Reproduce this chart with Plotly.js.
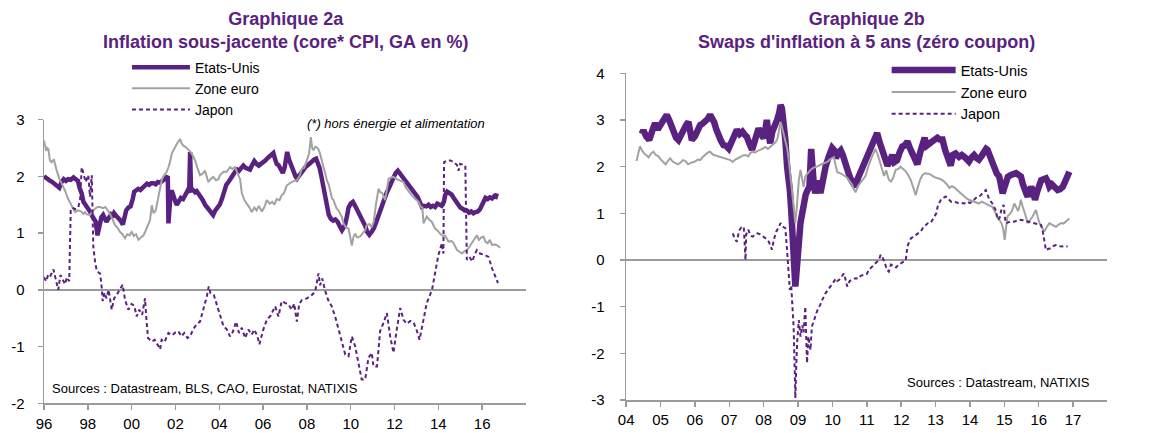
<!DOCTYPE html>
<html>
<head>
<meta charset="utf-8">
<script src="https://cdn.plot.ly/plotly-3.0.1.min.js"></script>
<style>
html,body{margin:0;padding:0;background:#ffffff;}
#chart{width:1150px;height:433px;}
</style>
</head>
<body>
<div id="chart"></div>
<script>
// ---------- Graphique 2a : inflation sous-jacente (core CPI, GA en %) ----------
const seriesNames = ['Etats-Unis', 'Zone euro', 'Japon'];

const coreUS = [
[1996.0,2.00],[1996.12,1.96],[1996.25,1.93],[1996.38,1.90],[1996.5,1.86],[1996.6,1.82],[1996.7,1.80],[1996.8,1.90],[1996.9,1.95],
[1997.0,1.92],[1997.1,1.95],[1997.22,1.94],[1997.35,1.98],[1997.45,1.95],[1997.55,1.92],[1997.62,1.80],[1997.72,1.70],[1997.8,1.55],
[1997.9,1.50],[1998.0,1.45],[1998.1,1.38],[1998.2,1.30],[1998.3,1.22],[1998.36,1.20],[1998.44,0.96],[1998.5,1.10],[1998.55,1.22],
[1998.62,1.28],[1998.7,1.32],[1998.78,1.25],[1998.85,1.20],[1998.95,1.26],[1999.05,1.32],[1999.12,1.28],[1999.2,1.35],[1999.3,1.30],
[1999.4,1.26],[1999.5,1.22],[1999.6,1.15],[1999.68,1.30],[1999.75,1.40],[1999.85,1.45],[1999.95,1.47],[2000.05,1.60],[2000.12,1.73],
[2000.2,1.75],[2000.3,1.78],[2000.4,1.76],[2000.5,1.80],[2000.6,1.84],[2000.7,1.87],[2000.8,1.85],[2000.9,1.88],[2001.0,1.88],
[2001.1,1.86],[2001.2,1.90],[2001.3,1.89],[2001.4,1.92],[2001.5,1.95],[2001.6,1.98],[2001.65,2.00],[2001.68,1.17],[2001.73,1.55],
[2001.78,1.70],[2001.83,1.75],[2001.92,1.62],[2002.0,1.55],[2002.06,1.50],[2002.15,1.55],[2002.25,1.62],[2002.35,1.60],[2002.45,1.67],
[2002.55,1.72],[2002.63,1.80],[2002.67,2.43],[2002.71,1.75],[2002.8,1.76],[2002.9,1.72],[2002.97,1.74],[2003.05,1.70],[2003.15,1.65],
[2003.25,1.58],[2003.35,1.50],[2003.45,1.45],[2003.55,1.38],[2003.65,1.33],[2003.72,1.32],[2003.82,1.40],[2003.92,1.46],[2004.02,1.50],
[2004.12,1.60],[2004.22,1.72],[2004.32,1.85],[2004.42,1.90],[2004.52,1.98],[2004.62,2.02],[2004.72,2.08],[2004.82,2.12],[2004.9,2.10],
[2005.0,2.16],[2005.1,2.19],[2005.2,2.15],[2005.3,2.13],[2005.4,2.12],[2005.5,2.20],[2005.6,2.27],[2005.7,2.22],[2005.8,2.19],
[2005.9,2.22],[2006.0,2.24],[2006.1,2.28],[2006.2,2.32],[2006.3,2.36],[2006.4,2.38],[2006.47,2.41],[2006.55,2.30],[2006.62,2.22],
[2006.7,2.20],[2006.8,2.12],[2006.9,2.06],[2006.98,2.15],[2007.05,2.30],[2007.1,2.43],[2007.18,2.30],[2007.28,2.18],[2007.38,2.10],
[2007.48,2.00],[2007.55,1.96],[2007.65,2.02],[2007.75,2.08],[2007.85,2.12],[2007.95,2.17],[2008.05,2.20],[2008.15,2.24],[2008.25,2.28],
[2008.35,2.30],[2008.42,2.31],[2008.5,2.24],[2008.58,2.15],[2008.66,2.00],[2008.75,1.80],[2008.83,1.60],[2008.92,1.40],[2009.0,1.32],
[2009.1,1.25],[2009.2,1.22],[2009.3,1.24],[2009.4,1.20],[2009.5,1.12],[2009.6,1.05],[2009.68,1.10],[2009.75,1.16],[2009.83,1.30],
[2009.9,1.45],[2010.0,1.52],[2010.1,1.55],[2010.2,1.48],[2010.3,1.40],[2010.38,1.35],[2010.48,1.30],[2010.58,1.20],[2010.67,1.12],
[2010.75,1.02],[2010.85,0.97],[2010.95,1.02],[2011.05,1.08],[2011.15,1.18],[2011.25,1.30],[2011.35,1.40],[2011.45,1.52],[2011.55,1.64],
[2011.65,1.72],[2011.75,1.80],[2011.85,1.90],[2011.95,2.00],[2012.05,2.06],[2012.15,2.10],[2012.25,2.05],[2012.35,1.98],[2012.45,1.92],
[2012.55,1.88],[2012.65,1.84],[2012.75,1.80],[2012.85,1.74],[2012.95,1.70],[2013.05,1.64],[2013.15,1.55],[2013.25,1.46],[2013.35,1.48],
[2013.45,1.47],[2013.55,1.50],[2013.65,1.46],[2013.75,1.48],[2013.85,1.46],[2013.95,1.52],[2014.05,1.50],[2014.15,1.48],[2014.25,1.55],
[2014.32,1.68],[2014.4,1.73],[2014.5,1.70],[2014.6,1.68],[2014.7,1.62],[2014.8,1.55],[2014.9,1.50],[2015.0,1.45],[2015.1,1.43],
[2015.2,1.40],[2015.3,1.40],[2015.4,1.36],[2015.5,1.38],[2015.6,1.35],[2015.7,1.37],[2015.8,1.38],[2015.9,1.42],[2016.0,1.50],
[2016.08,1.56],[2016.15,1.62],[2016.25,1.60],[2016.35,1.63],[2016.45,1.61],[2016.55,1.65],[2016.62,1.64],[2016.67,1.70]
];

const coreEZ = [
[1996.0,2.63],[1996.05,2.55],[1996.1,2.45],[1996.15,2.50],[1996.2,2.48],[1996.27,2.28],[1996.35,2.25],[1996.45,2.30],[1996.52,2.18],
[1996.58,2.10],[1996.7,1.96],[1996.85,1.85],[1996.96,1.75],[1997.08,1.62],[1997.19,1.52],[1997.3,1.45],[1997.42,1.37],[1997.55,1.40],
[1997.7,1.38],[1997.8,1.34],[1997.87,1.37],[1997.95,1.33],[1998.1,1.32],[1998.2,1.38],[1998.33,1.43],[1998.45,1.46],[1998.56,1.46],
[1998.7,1.44],[1998.8,1.46],[1998.9,1.40],[1999.0,1.35],[1999.12,1.25],[1999.24,1.14],[1999.35,1.10],[1999.47,1.02],[1999.58,0.98],
[1999.7,0.91],[1999.8,0.98],[1999.9,0.96],[2000.0,1.02],[2000.1,0.95],[2000.2,0.98],[2000.31,0.88],[2000.42,0.92],[2000.54,0.96],
[2000.65,1.05],[2000.75,1.15],[2000.84,1.23],[2000.92,1.49],[2001.0,1.35],[2001.1,1.40],[2001.22,1.64],[2001.3,1.80],[2001.37,1.93],
[2001.45,2.00],[2001.53,2.05],[2001.6,2.08],[2001.68,2.16],[2001.75,2.25],[2001.83,2.40],[2001.95,2.50],[2002.06,2.57],[2002.15,2.62],
[2002.21,2.66],[2002.28,2.58],[2002.36,2.54],[2002.45,2.52],[2002.55,2.49],[2002.65,2.45],[2002.74,2.40],[2002.82,2.35],[2002.9,2.28],
[2003.0,2.15],[2003.12,2.02],[2003.25,2.05],[2003.35,2.10],[2003.5,1.90],[2003.6,1.95],[2003.73,1.99],[2003.85,1.93],[2003.96,1.95],
[2004.03,2.02],[2004.19,2.08],[2004.34,2.08],[2004.49,2.16],[2004.6,2.13],[2004.72,2.16],[2004.85,2.02],[2004.95,1.95],[2005.03,1.70],
[2005.15,1.58],[2005.25,1.52],[2005.38,1.45],[2005.48,1.37],[2005.6,1.45],[2005.7,1.40],[2005.8,1.48],[2005.94,1.38],[2006.05,1.45],
[2006.17,1.58],[2006.3,1.52],[2006.42,1.55],[2006.52,1.50],[2006.62,1.60],[2006.75,1.58],[2006.85,1.67],[2006.95,1.70],[2007.08,1.84],
[2007.2,1.88],[2007.31,1.90],[2007.42,1.92],[2007.54,1.93],[2007.66,2.00],[2007.77,2.13],[2007.88,2.15],[2008.0,2.28],[2008.1,2.40],
[2008.18,2.69],[2008.24,2.50],[2008.3,2.46],[2008.38,2.52],[2008.45,2.51],[2008.52,2.48],[2008.6,2.40],[2008.68,2.30],[2008.76,2.16],
[2008.84,2.05],[2008.91,1.93],[2009.0,1.85],[2009.06,1.73],[2009.14,1.62],[2009.21,1.58],[2009.3,1.48],[2009.36,1.43],[2009.44,1.40],
[2009.52,1.35],[2009.6,1.28],[2009.67,1.17],[2009.78,1.10],[2009.9,1.08],[2009.98,0.95],[2010.05,0.78],[2010.12,0.92],[2010.2,0.99],
[2010.3,0.92],[2010.43,0.94],[2010.55,1.00],[2010.66,1.05],[2010.73,1.14],[2010.85,1.16],[2010.95,1.10],[2011.05,1.20],[2011.15,1.50],
[2011.27,1.78],[2011.35,1.72],[2011.45,1.70],[2011.57,1.58],[2011.65,1.80],[2011.73,1.96],[2011.85,1.98],[2011.95,1.99],[2012.1,1.95],
[2012.25,1.92],[2012.41,1.90],[2012.52,1.80],[2012.64,1.73],[2012.8,1.66],[2012.95,1.60],[2013.1,1.55],[2013.2,1.46],[2013.27,1.45],
[2013.32,1.17],[2013.4,1.25],[2013.47,1.29],[2013.6,1.23],[2013.7,1.20],[2013.85,1.08],[2013.95,1.05],[2014.08,0.99],[2014.2,0.95],
[2014.3,0.96],[2014.46,0.85],[2014.6,0.86],[2014.7,0.82],[2014.85,0.70],[2014.95,0.68],[2015.08,0.64],[2015.18,0.68],[2015.3,0.70],
[2015.4,0.75],[2015.53,0.82],[2015.65,0.88],[2015.76,0.96],[2015.85,0.88],[2015.95,0.92],[2016.06,0.94],[2016.15,0.85],[2016.25,0.82],
[2016.35,0.88],[2016.45,0.79],[2016.6,0.80],[2016.7,0.78],[2016.82,0.74]
];

const coreJP = [
[1996.0,0.22],[1996.1,0.15],[1996.2,0.28],[1996.3,0.25],[1996.43,0.36],[1996.55,0.15],[1996.65,0.00],[1996.75,0.26],[1996.85,0.18],
[1996.96,0.10],[1997.05,0.22],[1997.15,0.15],[1997.22,1.40],[1997.3,1.45],[1997.42,1.42],[1997.57,1.46],[1997.65,1.60],[1997.72,2.16],
[1997.8,2.05],[1997.9,1.90],[1998.02,2.02],[1998.1,1.64],[1998.18,2.02],[1998.25,0.76],[1998.33,0.50],[1998.4,0.35],[1998.5,0.30],
[1998.56,0.29],[1998.62,0.10],[1998.68,-0.20],[1998.76,-0.05],[1998.85,-0.15],[1998.95,0.00],[1999.09,-0.35],[1999.2,-0.15],[1999.3,-0.10],
[1999.45,0.00],[1999.59,0.09],[1999.7,-0.18],[1999.85,-0.35],[2000.0,-0.25],[2000.12,-0.28],[2000.23,-0.47],[2000.35,-0.35],[2000.48,-0.44],
[2000.61,-0.15],[2000.68,-0.55],[2000.75,-0.85],[2000.92,-0.91],[2001.05,-0.88],[2001.22,-0.99],[2001.3,-1.05],[2001.37,-0.88],[2001.5,-0.92],
[2001.68,-0.76],[2001.85,-0.80],[2002.0,-0.75],[2002.13,-0.73],[2002.28,-0.82],[2002.4,-0.76],[2002.55,-0.85],[2002.67,-0.82],[2002.8,-0.70],
[2002.97,-0.61],[2003.12,-0.56],[2003.27,-0.35],[2003.43,-0.12],[2003.52,0.06],[2003.6,-0.06],[2003.75,-0.09],[2003.96,-0.35],[2004.1,-0.55],
[2004.19,-0.64],[2004.35,-0.70],[2004.49,-0.82],[2004.62,-0.74],[2004.77,-0.56],[2004.9,-0.76],[2005.03,-0.67],[2005.18,-0.85],[2005.33,-0.70],
[2005.48,-0.79],[2005.6,-0.70],[2005.74,-0.82],[2005.83,-0.96],[2006.01,-0.70],[2006.17,-0.53],[2006.35,-0.45],[2006.55,-0.29],[2006.7,-0.47],
[2006.85,-0.20],[2007.0,-0.23],[2007.16,-0.26],[2007.31,-0.35],[2007.42,-0.24],[2007.54,-0.56],[2007.65,-0.25],[2007.77,-0.18],[2008.0,-0.15],
[2008.23,-0.09],[2008.38,-0.03],[2008.53,0.29],[2008.6,0.08],[2008.7,0.20],[2008.82,0.00],[2008.97,-0.18],[2009.13,-0.29],[2009.29,-0.47],
[2009.44,-0.70],[2009.59,-0.94],[2009.75,-1.14],[2009.9,-1.17],[2010.05,-0.82],[2010.2,-0.99],[2010.35,-1.29],[2010.5,-1.58],[2010.66,-1.58],
[2010.81,-1.20],[2010.96,-1.11],[2011.04,-1.35],[2011.2,-1.35],[2011.27,-1.05],[2011.34,-0.73],[2011.5,-0.58],[2011.65,-0.41],[2011.8,-0.82],
[2011.95,-1.11],[2012.1,-0.70],[2012.26,-0.32],[2012.41,-0.53],[2012.56,-0.60],[2012.72,-0.55],[2012.87,-0.58],[2013.0,-0.70],[2013.14,-0.88],
[2013.32,-0.53],[2013.47,-0.23],[2013.71,0.00],[2013.85,0.29],[2014.0,0.61],[2014.16,0.82],[2014.23,0.64],[2014.26,2.25],[2014.4,2.28],
[2014.54,2.28],[2014.7,2.25],[2014.85,2.20],[2014.92,2.10],[2015.0,2.22],[2015.23,2.19],[2015.3,0.53],[2015.42,0.58],[2015.55,0.50],
[2015.65,0.62],[2015.76,0.70],[2015.9,0.64],[2016.14,0.61],[2016.29,0.58],[2016.45,0.38],[2016.6,0.23],[2016.72,0.12]
];

// ---------- Graphique 2b : swaps d'inflation à 5 ans (zéro coupon) ----------
const swapUS = [
[2004.45,2.70],[2004.5,2.78],[2004.58,2.65],[2004.67,2.57],[2004.75,2.75],[2004.84,2.93],[2004.92,2.80],[2005.0,2.90],[2005.1,3.05],
[2005.18,3.11],[2005.25,3.00],[2005.32,2.85],[2005.38,2.71],[2005.45,2.62],[2005.52,2.57],[2005.6,2.70],[2005.67,2.82],[2005.75,2.90],
[2005.81,2.96],[2005.86,2.80],[2005.91,2.57],[2006.0,2.65],[2006.08,2.80],[2006.15,2.89],[2006.22,2.92],[2006.3,2.96],[2006.37,3.02],
[2006.44,3.11],[2006.5,3.05],[2006.56,2.95],[2006.62,2.80],[2006.69,2.64],[2006.76,2.55],[2006.83,2.46],[2006.9,2.45],[2006.98,2.39],
[2007.05,2.50],[2007.12,2.61],[2007.18,2.72],[2007.22,2.79],[2007.3,2.70],[2007.38,2.75],[2007.45,2.68],[2007.51,2.64],[2007.58,2.50],
[2007.66,2.36],[2007.72,2.50],[2007.78,2.65],[2007.85,2.82],[2007.92,2.70],[2008.0,2.61],[2008.05,2.80],[2008.09,3.00],[2008.14,2.70],
[2008.19,2.50],[2008.25,2.75],[2008.32,2.85],[2008.39,3.00],[2008.45,3.15],[2008.49,3.32],[2008.53,3.25],[2008.56,3.11],[2008.6,2.85],
[2008.63,2.57],[2008.68,2.00],[2008.72,1.80],[2008.76,1.50],[2008.8,1.07],[2008.84,0.60],[2008.87,0.36],[2008.9,-0.20],[2008.92,-0.57],
[2008.95,-0.30],[2008.99,0.14],[2009.03,0.50],[2009.07,0.80],[2009.12,1.00],[2009.17,1.25],[2009.22,1.40],[2009.28,1.50],[2009.33,1.57],
[2009.38,2.38],[2009.41,1.80],[2009.46,1.60],[2009.5,1.43],[2009.56,1.60],[2009.6,1.70],[2009.65,1.43],[2009.72,1.75],[2009.8,2.00],
[2009.89,2.21],[2009.99,2.40],[2010.05,2.35],[2010.1,2.18],[2010.17,2.30],[2010.24,2.35],[2010.3,2.25],[2010.38,2.00],[2010.45,1.90],
[2010.52,1.75],[2010.6,1.65],[2010.67,1.57],[2010.74,1.75],[2010.82,1.90],[2010.9,2.00],[2010.96,2.10],[2011.04,2.30],[2011.11,2.42],
[2011.18,2.55],[2011.25,2.68],[2011.3,2.72],[2011.36,2.55],[2011.42,2.42],[2011.48,2.30],[2011.53,2.15],[2011.6,2.02],[2011.66,2.10],
[2011.74,2.25],[2011.8,2.10],[2011.88,2.14],[2011.95,2.30],[2012.03,2.43],[2012.1,2.45],[2012.18,2.54],[2012.25,2.40],[2012.32,2.29],
[2012.42,2.10],[2012.47,2.05],[2012.55,2.30],[2012.62,2.45],[2012.68,2.62],[2012.74,2.45],[2012.82,2.50],[2012.9,2.52],[2013.0,2.58],
[2013.05,2.62],[2013.12,2.58],[2013.2,2.58],[2013.28,2.35],[2013.36,2.15],[2013.44,2.02],[2013.5,2.25],[2013.58,2.28],[2013.68,2.21],
[2013.76,2.25],[2013.85,2.20],[2013.97,2.11],[2014.05,2.20],[2014.12,2.25],[2014.2,2.18],[2014.26,2.15],[2014.33,2.22],[2014.41,2.32],
[2014.47,2.38],[2014.51,2.36],[2014.58,2.20],[2014.65,2.05],[2014.7,1.93],[2014.78,1.85],[2014.85,1.79],[2014.9,1.60],[2014.95,1.43],
[2015.0,1.55],[2015.04,1.71],[2015.1,1.78],[2015.19,1.82],[2015.26,1.85],[2015.34,1.86],[2015.42,1.82],[2015.48,1.79],[2015.54,1.62],
[2015.58,1.50],[2015.64,1.42],[2015.68,1.36],[2015.73,1.45],[2015.78,1.57],[2015.84,1.45],[2015.89,1.29],[2015.95,1.45],[2016.02,1.62],
[2016.07,1.71],[2016.14,1.73],[2016.21,1.75],[2016.26,1.68],[2016.31,1.57],[2016.38,1.62],[2016.44,1.58],[2016.5,1.52],[2016.55,1.50],
[2016.62,1.52],[2016.7,1.57],[2016.75,1.65],[2016.79,1.75],[2016.84,1.82],[2016.89,1.89]
];

const swapEZ = [
[2004.3,2.12],[2004.36,2.30],[2004.4,2.43],[2004.46,2.35],[2004.52,2.28],[2004.58,2.25],[2004.65,2.20],[2004.72,2.28],[2004.79,2.32],
[2004.86,2.25],[2004.94,2.22],[2005.01,2.15],[2005.08,2.10],[2005.15,2.05],[2005.21,2.12],[2005.28,2.18],[2005.35,2.11],[2005.42,2.08],
[2005.5,2.05],[2005.57,2.08],[2005.65,2.14],[2005.72,2.12],[2005.8,2.05],[2005.88,2.08],[2006.0,2.11],[2006.08,2.15],[2006.15,2.14],
[2006.22,2.20],[2006.3,2.25],[2006.37,2.30],[2006.44,2.32],[2006.52,2.26],[2006.6,2.24],[2006.68,2.22],[2006.74,2.20],[2006.82,2.18],
[2006.9,2.16],[2006.97,2.14],[2007.03,2.14],[2007.1,2.10],[2007.17,2.15],[2007.25,2.18],[2007.32,2.21],[2007.4,2.24],[2007.47,2.25],
[2007.55,2.22],[2007.61,2.29],[2007.68,2.32],[2007.75,2.30],[2007.82,2.34],[2007.9,2.36],[2007.98,2.39],[2008.05,2.42],[2008.12,2.38],
[2008.19,2.43],[2008.27,2.48],[2008.34,2.52],[2008.4,2.60],[2008.44,2.80],[2008.49,2.96],[2008.53,2.85],[2008.58,2.70],[2008.63,2.55],
[2008.68,2.40],[2008.73,2.14],[2008.77,1.86],[2008.82,1.57],[2008.87,1.29],[2008.92,0.79],[2008.96,1.10],[2009.02,1.70],[2009.07,1.93],
[2009.12,1.70],[2009.16,1.57],[2009.21,1.79],[2009.28,1.85],[2009.36,1.93],[2009.45,1.98],[2009.55,2.00],[2009.65,2.04],[2009.75,2.07],
[2009.85,2.10],[2009.94,2.16],[2010.04,2.20],[2010.1,2.00],[2010.14,1.88],[2010.22,1.86],[2010.28,1.84],[2010.36,1.80],[2010.43,1.76],
[2010.5,1.68],[2010.57,1.62],[2010.62,1.52],[2010.67,1.45],[2010.74,1.58],[2010.82,1.66],[2010.9,1.72],[2010.96,1.80],[2011.04,2.00],
[2011.1,2.14],[2011.17,2.25],[2011.25,2.38],[2011.32,2.25],[2011.4,2.05],[2011.45,1.89],[2011.5,1.80],[2011.56,1.92],[2011.64,1.72],
[2011.7,1.68],[2011.76,1.75],[2011.84,1.93],[2011.92,1.95],[2011.98,2.00],[2012.05,1.95],[2012.13,1.90],[2012.2,1.82],[2012.28,1.71],
[2012.35,1.55],[2012.42,1.39],[2012.48,1.55],[2012.55,1.72],[2012.62,1.82],[2012.7,1.86],[2012.78,1.85],[2012.86,1.83],[2012.95,1.78],
[2013.05,1.75],[2013.15,1.73],[2013.25,1.68],[2013.34,1.61],[2013.4,1.54],[2013.47,1.58],[2013.55,1.55],[2013.62,1.50],[2013.68,1.46],
[2013.76,1.40],[2013.83,1.36],[2013.9,1.32],[2013.97,1.29],[2014.05,1.27],[2014.12,1.25],[2014.2,1.22],[2014.26,1.21],[2014.34,1.25],
[2014.41,1.22],[2014.51,1.18],[2014.58,1.16],[2014.65,1.14],[2014.7,1.08],[2014.75,1.00],[2014.8,0.92],[2014.86,0.85],[2014.92,0.78],
[2014.97,0.65],[2015.01,0.43],[2015.05,0.70],[2015.09,0.93],[2015.15,0.98],[2015.22,1.05],[2015.29,1.21],[2015.34,1.12],[2015.4,1.05],
[2015.44,1.15],[2015.48,1.29],[2015.53,1.15],[2015.58,1.05],[2015.63,0.92],[2015.68,0.79],[2015.75,0.85],[2015.82,0.93],[2015.87,1.00],
[2015.92,1.07],[2015.97,0.92],[2016.02,0.79],[2016.09,0.70],[2016.16,0.61],[2016.23,0.70],[2016.31,0.79],[2016.38,0.76],[2016.44,0.73],
[2016.5,0.71],[2016.58,0.76],[2016.65,0.79],[2016.72,0.78],[2016.79,0.82],[2016.84,0.86],[2016.89,0.89]
];

const swapJP = [
[2007.1,0.57],[2007.16,0.45],[2007.22,0.39],[2007.28,0.62],[2007.35,0.70],[2007.42,0.71],[2007.45,0.30],[2007.47,0.00],[2007.49,0.55],
[2007.55,0.65],[2007.62,0.52],[2007.68,0.50],[2007.75,0.55],[2007.82,0.57],[2007.9,0.55],[2008.0,0.50],[2008.08,0.45],[2008.15,0.39],
[2008.2,0.30],[2008.24,0.22],[2008.3,0.45],[2008.36,0.60],[2008.44,0.71],[2008.49,0.79],[2008.55,0.72],[2008.63,0.68],[2008.68,0.20],
[2008.72,-0.36],[2008.76,-0.64],[2008.8,-0.55],[2008.84,-1.00],[2008.87,-1.43],[2008.9,-2.30],[2008.92,-2.96],[2008.95,-2.20],[2008.97,-1.79],
[2009.02,-1.29],[2009.05,-1.50],[2009.07,-1.64],[2009.12,-1.40],[2009.16,-1.55],[2009.21,-1.00],[2009.24,-1.60],[2009.26,-2.21],[2009.3,-1.64],
[2009.36,-1.93],[2009.4,-1.43],[2009.45,-1.30],[2009.5,-1.21],[2009.55,-1.10],[2009.6,-1.04],[2009.65,-0.95],[2009.7,-0.86],[2009.75,-0.78],
[2009.8,-0.71],[2009.87,-0.64],[2009.94,-0.57],[2010.0,-0.50],[2010.04,-0.46],[2010.1,-0.40],[2010.14,-0.45],[2010.19,-0.43],[2010.26,-0.36],
[2010.33,-0.29],[2010.38,-0.42],[2010.43,-0.57],[2010.5,-0.45],[2010.57,-0.43],[2010.67,-0.39],[2010.75,-0.40],[2010.82,-0.34],[2010.91,-0.32],
[2011.0,-0.30],[2011.06,-0.21],[2011.13,-0.15],[2011.2,-0.11],[2011.28,-0.05],[2011.35,0.00],[2011.4,0.11],[2011.45,0.06],[2011.52,-0.05],
[2011.58,-0.21],[2011.64,-0.25],[2011.7,-0.10],[2011.78,-0.12],[2011.85,-0.16],[2011.92,-0.10],[2011.98,-0.07],[2012.06,-0.04],[2012.13,-0.02],
[2012.18,0.29],[2012.23,0.39],[2012.28,0.46],[2012.35,0.50],[2012.42,0.54],[2012.5,0.57],[2012.57,0.61],[2012.64,0.70],[2012.71,0.75],
[2012.78,0.79],[2012.86,0.80],[2012.95,0.90],[2013.02,1.00],[2013.07,1.18],[2013.1,1.21],[2013.16,1.30],[2013.22,1.32],[2013.3,1.36],
[2013.38,1.30],[2013.45,1.25],[2013.55,1.25],[2013.65,1.22],[2013.75,1.22],[2013.83,1.21],[2013.92,1.25],[2014.0,1.22],[2014.1,1.28],
[2014.22,1.36],[2014.3,1.38],[2014.36,1.43],[2014.42,1.48],[2014.46,1.50],[2014.5,1.42],[2014.56,1.30],[2014.65,1.21],[2014.7,1.15],
[2014.76,1.05],[2014.8,0.86],[2014.86,0.90],[2014.92,1.10],[2014.98,1.18],[2015.01,0.95],[2015.04,0.79],[2015.1,0.80],[2015.18,0.83],
[2015.29,0.82],[2015.38,0.85],[2015.48,0.86],[2015.58,0.84],[2015.7,0.82],[2015.87,0.79],[2015.97,0.77],[2016.07,0.75],[2016.12,0.60],
[2016.16,0.40],[2016.21,0.21],[2016.28,0.24],[2016.36,0.25],[2016.43,0.30],[2016.5,0.32],[2016.58,0.30],[2016.65,0.29],[2016.75,0.30],
[2016.84,0.29]
];

// tick labels
const ticksA = [1996,1998,2000,2002,2004,2006,2008,2010,2012,2014,2016];
const tickTextA = ['96','98','00','02','04','06','08','10','12','14','16'];
const ticksB = [2004,2005,2006,2007,2008,2009,2010,2011,2012,2013,2014,2015,2016,2017];
const tickTextB = ['04','05','06','07','08','09','10','11','12','13','14','15','16','17'];
const yTicksA = [-2,-1,0,1,2,3];
const yTicksB = [-3,-2,-1,0,1,2,3,4];

// ---------- styling ----------
const PURPLE = '#5a2280';
const GRAY = '#a2a2a2';
const AXIS = '#9b9b9b';
const FONT = 'Arial, "Liberation Sans", sans-serif';

const xs = d => d.map(p => p[0]);
const ys = d => d.map(p => p[1]);

const traces = [
  {x: xs(coreUS), y: ys(coreUS), xaxis:'x', yaxis:'y', name: seriesNames[0], legend:'legend', mode:'lines',
   line:{color:PURPLE, width:4.5}},
  {x: xs(coreEZ), y: ys(coreEZ), xaxis:'x', yaxis:'y', name: seriesNames[1], legend:'legend', mode:'lines',
   line:{color:GRAY, width:2}},
  {x: xs(coreJP), y: ys(coreJP), xaxis:'x', yaxis:'y', name: seriesNames[2], legend:'legend', mode:'lines',
   line:{color:PURPLE, width:2, dash:'4px,3px'}},
  {x: xs(swapUS), y: ys(swapUS), xaxis:'x2', yaxis:'y2', name: seriesNames[0], legend:'legend2', mode:'lines',
   line:{color:PURPLE, width:6.5}},
  {x: xs(swapEZ), y: ys(swapEZ), xaxis:'x2', yaxis:'y2', name: seriesNames[1], legend:'legend2', mode:'lines',
   line:{color:GRAY, width:2}},
  {x: xs(swapJP), y: ys(swapJP), xaxis:'x2', yaxis:'y2', name: seriesNames[2], legend:'legend2', mode:'lines',
   line:{color:PURPLE, width:2, dash:'4px,3px'}}
];

const baseX = {
  showgrid:false, zeroline:false, showline:true, linecolor:AXIS, linewidth:1.5,
  ticks:'outside', ticklen:5, tickwidth:1.5, tickcolor:AXIS, fixedrange:true,
  tickfont:{family:FONT, size:15, color:'#000'}
};
const baseY = {
  showgrid:false, showline:true, linecolor:AXIS, linewidth:1.5,
  zeroline:true, zerolinecolor:AXIS, zerolinewidth:1.5,
  ticks:'outside', ticklen:5, tickwidth:1.5, tickcolor:AXIS, fixedrange:true,
  tickfont:{family:FONT, size:15, color:'#000'}
};

const layout = {
  width:1150, height:433,
  margin:{l:0, r:0, t:0, b:0},
  paper_bgcolor:'#ffffff', plot_bgcolor:'rgba(0,0,0,0)',
  font:{family:FONT, size:15, color:'#000'},
  showlegend:true,
  xaxis: Object.assign({}, baseX, {domain:[0.038261,0.457391], range:[1996,2018], tickmode:'array',
    tickvals:ticksA, ticktext:tickTextA, anchor:'y', ticklabelstandoff:1}),
  yaxis: Object.assign({}, baseY, {domain:[0.06859,0.72379], range:[-2,3], tickmode:'array',
    tickvals:yTicksA, ticktext:yTicksA.map(String), anchor:'x', ticklabelstandoff:10}),
  yaxis3: Object.assign({}, baseY, {domain:[0.06859,0.72379], range:[-2,3], tickmode:'array',
    tickvals:yTicksA, ticktext:yTicksA.map(String), overlaying:'y', side:'right', anchor:'x', zeroline:false, ticklabelstandoff:4}),
  xaxis2: Object.assign({}, baseX, {domain:[0.544522,0.963043], range:[2004,2018], tickmode:'array',
    tickvals:ticksB, ticktext:tickTextB, anchor:'y2', ticklabelstandoff:0}),
  yaxis2: Object.assign({}, baseY, {domain:[0.076212,0.830716], range:[-3,4], tickmode:'array',
    tickvals:yTicksB, ticktext:yTicksB.map(String), anchor:'x2', ticklabelstandoff:12}),
  yaxis4: Object.assign({}, baseY, {domain:[0.076212,0.830716], range:[-3,4], tickmode:'array',
    tickvals:yTicksB, ticktext:yTicksB.map(String), overlaying:'y2', side:'right', anchor:'x2', zeroline:false, ticklabelstandoff:8}),
  legend:{x:0.1104, xanchor:'left', y:0.881, yanchor:'top', bgcolor:'rgba(0,0,0,0)', borderwidth:0,
    font:{family:FONT, size:14, color:'#000'}, itemwidth:58, traceorder:'normal'},
  legend2:{x:0.771, xanchor:'left', y:0.875, yanchor:'top', bgcolor:'rgba(0,0,0,0)', borderwidth:0,
    font:{family:FONT, size:14.5, color:'#000'}, itemwidth:64, traceorder:'normal'},
  annotations:[
    {xref:'paper', yref:'paper', x:0.24783, y:0.9307, xanchor:'center', yanchor:'middle', showarrow:false,
     text:'<b>Graphique 2a<br>Inflation sous-jacente (core* CPI, GA en %)</b>', font:{family:FONT, size:18, color:PURPLE}},
    {xref:'paper', yref:'paper', x:0.75348, y:0.9307, xanchor:'center', yanchor:'middle', showarrow:false,
     text:'<b>Graphique 2b<br>Swaps d\'inflation à 5 ans (zéro coupon)</b>', font:{family:FONT, size:18, color:PURPLE}},
    {xref:'paper', yref:'paper', x:0.2652, y:0.7159, xanchor:'left', yanchor:'middle', showarrow:false,
     text:'<i>(*) hors énergie et alimentation</i>', font:{family:FONT, size:13, color:'#000'}},
    {xref:'paper', yref:'paper', x:0.0435, y:0.1039, xanchor:'left', yanchor:'middle', showarrow:false,
     text:'Sources : Datastream, BLS, CAO, Eurostat, NATIXIS', font:{family:FONT, size:13, color:'#000'}},
    {xref:'paper', yref:'paper', x:0.7870, y:0.1155, xanchor:'left', yanchor:'middle', showarrow:false,
     text:'Sources : Datastream, NATIXIS', font:{family:FONT, size:13, color:'#000'}}
  ]
};

Plotly.newPlot('chart', traces, layout, {staticPlot:true, displayModeBar:false});
</script>
</body>
</html>
